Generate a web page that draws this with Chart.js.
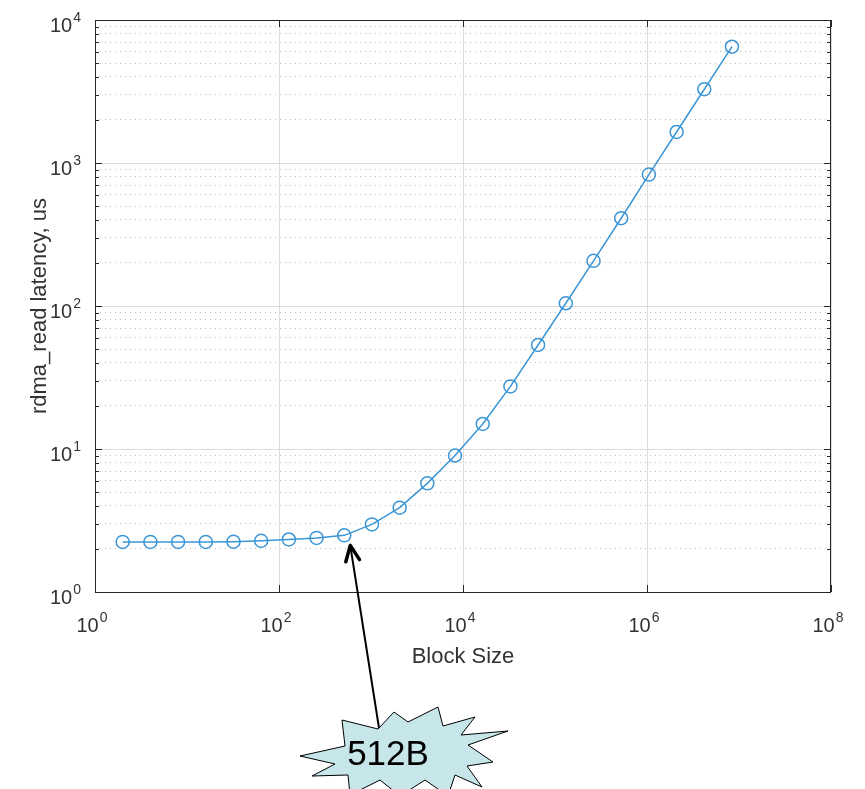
<!DOCTYPE html>
<html>
<head>
<meta charset="utf-8">
<title>rdma_read latency</title>
<script src="https://cdn.jsdelivr.net/npm/chart.js@4.4.0/dist/chart.umd.min.js"></script>
<style>
    html, body { margin: 0; padding: 0; background: #fff; }
    canvas { display: block; }
</style>
</head>
<body>
<canvas id="latencyChart" width="865" height="789"></canvas>
<script>
// Block sizes in bytes (2^1 .. 2^23)
const blockSizes = [2, 4, 8, 16, 32, 64, 128, 256, 512, 1024, 2048, 4096, 8192,
    16384, 32768, 65536, 131072, 262144, 524288, 1048576, 2097152, 4194304, 8388608];

// rdma_read latency in microseconds
const latencies = [2.24, 2.24, 2.24, 2.24, 2.25, 2.28, 2.33, 2.39, 2.49, 2.97, 3.89, 5.75, 9.0,
    14.96, 27.4, 53.4, 104.5, 207, 411, 830, 1648, 3280, 6505];

// Axis ticks (powers of ten that get a label)
const xTickExponents = [0, 2, 4, 6, 8];
const yTickExponents = [0, 1, 2, 3, 4];

// Annotation
const calloutText = '512B';
const calloutBlockSize = 512;

const lineColor = '#3a96d6';
const textColor = '#333333';
const fontFamily = '"Liberation Sans", Arial, Helvetica, sans-serif';

function isPow10(v) {
    const e = Math.log10(v);
    return Math.abs(e - Math.round(e)) < 1e-9;
}

// Y ticks for the grid: 1..9 for every decade
function yGridTicks() {
    const ticks = [];
    for (let e = 0; e < 4; e++) {
        for (let m = 1; m < 10; m++) {
            ticks.push({ value: m * Math.pow(10, e) });
        }
    }
    ticks.push({ value: 10000 });
    return ticks;
}

// Draws tick labels, titles, box and the callout
const matlabLook = {
    id: 'matlabLook',
    afterDraw(chart) {
        const ctx = chart.ctx;
        const area = chart.chartArea;
        const xs = chart.scales.x;
        const ys = chart.scales.y;

        ctx.save();

        // inner tick marks
        ctx.strokeStyle = '#262626';
        ctx.lineWidth = 1;
        ctx.beginPath();
        yGridTicks().forEach(t => {
            const py = Math.round(ys.getPixelForValue(t.value)) + 0.5;
            const len = isPow10(t.value) ? 7 : 4;
            ctx.moveTo(area.left, py); ctx.lineTo(area.left + len, py);
            ctx.moveTo(area.right, py); ctx.lineTo(area.right - len, py);
        });
        xTickExponents.forEach(e => {
            const px = Math.round(xs.getPixelForValue(Math.pow(10, e))) + 0.5;
            ctx.moveTo(px, area.bottom); ctx.lineTo(px, area.bottom - 7);
            ctx.moveTo(px, area.top); ctx.lineTo(px, area.top + 7);
        });
        ctx.stroke();

        // box
        ctx.strokeStyle = '#262626';
        ctx.lineWidth = 1;
        ctx.strokeRect(area.left + 0.5, area.top + 0.5, area.right - area.left - 1, area.bottom - area.top);

        // tick labels with superscript exponents
        const baseFont = '20px ' + fontFamily;
        const expFont = '14px ' + fontFamily;
        ctx.fillStyle = textColor;
        ctx.textBaseline = 'alphabetic';
        ctx.textAlign = 'left';
        function labelWidth(e) {
            ctx.font = baseFont;
            const wb = ctx.measureText('10').width;
            ctx.font = expFont;
            const we = ctx.measureText(String(e)).width;
            return { wb, total: wb + we + 1 };
        }
        function drawLabel(e, left, baseline) {
            const m = labelWidth(e);
            ctx.font = baseFont;
            ctx.fillText('10', left, baseline);
            ctx.font = expFont;
            ctx.fillText(String(e), left + m.wb + 1, baseline - 10);
        }
        yTickExponents.forEach(e => {
            const py = ys.getPixelForValue(Math.pow(10, e));
            const m = labelWidth(e);
            drawLabel(e, area.left - 14 - m.total, py + 12);
        });
        xTickExponents.forEach(e => {
            const px = xs.getPixelForValue(Math.pow(10, e));
            const m = labelWidth(e);
            drawLabel(e, px - 3 - m.total / 2, area.bottom + 40);
        });

        // axis titles
        ctx.font = '22px ' + fontFamily;
        ctx.textAlign = 'center';
        ctx.textBaseline = 'alphabetic';
        ctx.fillText('Block Size', (area.left + area.right) / 2, area.bottom + 71);
        ctx.save();
        ctx.translate(46, (area.top + area.bottom) / 2);
        ctx.rotate(-Math.PI / 2);
        ctx.fillText('rdma_read latency, us', 0, 0);
        ctx.restore();

        // callout: starburst
        const star = [
            [300, 756], [345, 746], [342, 720], [378, 729], [394, 712], [408, 722],
            [438, 707], [443, 726], [475, 717], [461, 735], [508, 731], [468, 745],
            [493, 762], [467, 766], [482, 787], [455, 775], [448, 796], [425, 780],
            [400, 796], [380, 780], [350, 795], [348, 775], [312, 776], [335, 764]
        ];
        ctx.beginPath();
        star.forEach((p, i) => i ? ctx.lineTo(p[0], p[1]) : ctx.moveTo(p[0], p[1]));
        ctx.closePath();
        ctx.fillStyle = '#c6e6ea';
        ctx.fill();
        ctx.strokeStyle = '#000';
        ctx.lineWidth = 1;
        ctx.stroke();

        ctx.fillStyle = '#000';
        ctx.font = '35px ' + fontFamily;
        ctx.textAlign = 'center';
        ctx.textBaseline = 'alphabetic';
        ctx.fillText(calloutText, 388, 765);

        // callout: arrow to the 512B point
        const idx = blockSizes.indexOf(calloutBlockSize);
        const tipX = xs.getPixelForValue(blockSizes[idx]) + 6;
        const tipY = ys.getPixelForValue(latencies[idx]) + 10;
        const startX = 379, startY = 728;
        ctx.strokeStyle = '#000';
        ctx.lineWidth = 2;
        ctx.beginPath();
        ctx.moveTo(startX, startY);
        ctx.lineTo(tipX, tipY);
        ctx.stroke();
        const ang = Math.atan2(tipY - startY, tipX - startX);
        const head = 17, spread = 0.42;
        ctx.lineWidth = 3.5;
        ctx.lineCap = 'round';
        ctx.lineJoin = 'round';
        ctx.beginPath();
        ctx.moveTo(tipX - head * Math.cos(ang - spread), tipY - head * Math.sin(ang - spread));
        ctx.lineTo(tipX, tipY);
        ctx.lineTo(tipX - head * Math.cos(ang + spread), tipY - head * Math.sin(ang + spread));
        ctx.stroke();

        ctx.restore();
    }
};

const ctx = document.getElementById('latencyChart').getContext('2d');
new Chart(ctx, {
    type: 'line',
    data: {
        datasets: [{
            label: 'rdma_read',
            data: blockSizes.map((b, i) => ({ x: b, y: latencies[i] })),
            borderColor: lineColor,
            borderWidth: 1.5,
            backgroundColor: 'transparent',
            pointRadius: 6.5,
            pointHoverRadius: 6.5,
            pointBorderWidth: 1.5,
            pointBorderColor: lineColor,
            pointBackgroundColor: 'rgba(0,0,0,0)',
            tension: 0,
            fill: false
        }]
    },
    options: {
        responsive: false,
        animation: false,
        events: [],
        layout: {
            padding: { top: 20, right: 34, bottom: 0, left: 0 }
        },
        scales: {
            x: {
                type: 'logarithmic',
                min: 1,
                max: 1e8,
                afterBuildTicks: scale => {
                    scale.ticks = xTickExponents.map(e => ({ value: Math.pow(10, e) }));
                },
                afterFit: scale => { scale.height = 197; },
                ticks: { display: false },
                grid: {
                    color: '#dcdcdc',
                    lineWidth: 1,
                    drawTicks: false
                },
                border: { display: false }
            },
            y: {
                type: 'logarithmic',
                min: 1,
                max: 1e4,
                afterBuildTicks: scale => {
                    scale.ticks = yGridTicks();
                },
                afterFit: scale => { scale.width = 95; },
                ticks: { display: false },
                grid: {
                    color: c => (c.tick && !isPow10(c.tick.value)) ? '#bdbdbd' : '#dcdcdc',
                    lineWidth: 1,
                    drawTicks: false
                },
                border: {
                    display: false,
                    dash: c => (c.tick && !isPow10(c.tick.value)) ? [1, 4] : []
                }
            }
        },
        plugins: {
            legend: { display: false },
            tooltip: { enabled: false }
        }
    },
    plugins: [matlabLook]
});
</script>
</body>
</html>
